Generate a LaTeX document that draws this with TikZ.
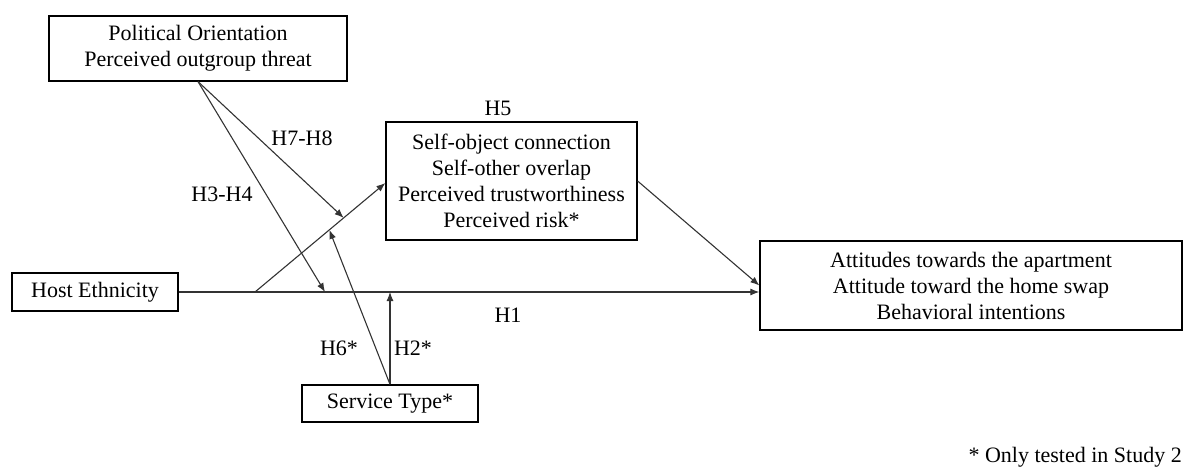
\documentclass[tikz,border=0pt]{standalone}
\usepackage{fontspec}
\setmainfont{Liberation Serif}
\usetikzlibrary{arrows.meta,calc}

\tikzset{
  box/.style={draw=black, line width=1.2pt, inner sep=0pt, align=center,
              font=\fontsize{22}{26}\selectfont},
  lbl/.style={inner sep=0pt, font=\fontsize{22}{26}\selectfont},
  link/.style={draw=black!80, line width=1.1pt},
  arr/.style={link, -{Latex[length=9pt,width=7pt]}}
}

\begin{document}
\begin{tikzpicture}[x=1pt,y=-1pt]
  \useasboundingbox (0,0) rectangle (1183,469);

  % construct boxes
  \node[box, minimum width=298pt, minimum height=65pt] (pol) at (198,48.5)
    {Political Orientation\\Perceived outgroup threat};
  \node[box, minimum width=251pt, minimum height=118pt] (self) at (511.5,181)
    {Self-object connection\\Self-other overlap\\Perceived trustworthiness\\Perceived risk*};
  \node[box, minimum width=422pt, minimum height=89pt] (att) at (971,285.5)
    {Attitudes towards the apartment\\Attitude toward the home swap\\Behavioral intentions};
  \node[box, minimum width=166pt, minimum height=38pt] (host) at (95,292)
    {Host Ethnicity};
  \node[box, minimum width=176pt, minimum height=37pt] (serv) at (390,403.5)
    {Service Type*};

  % junction points on the paths
  \coordinate (j1) at (255,292);
  \coordinate (st) at ($(self.west)+(0,2)$);
  \coordinate (m34) at (325,292);
  \coordinate (m78) at ($(j1)!0.68!(st)$);
  \coordinate (m6) at ($(j1)!0.57!(st)$);

  % direct path and mediation path
  \draw[arr] (host.east) -- (host.east -| att.west);
  \draw[arr] (j1) -- (st);
  \draw[arr] (self.east) -- (att.west);

  % moderators
  \draw[arr] (pol.south) -- (m78);
  \draw[arr] (pol.south) -- (m34);
  \draw[arr] (serv.north) -- (m6);
  \draw[arr] (serv.north) -- (serv.north |- host.east);

  % hypothesis labels
  \node[lbl] (h78) at (302,138) {H7-H8};
  \node[lbl] (h34) at (222,194) {H3-H4};
  \node[lbl] (h5) at (498,108) {H5};
  \node[lbl] (h1) at (508,315) {H1};
  \node[lbl] (h6) at (339,348) {H6*};
  \node[lbl] (h2) at (413,348) {H2*};

  % footnote
  \node[lbl, anchor=base east] (note) at (1182,462) {* Only tested in Study 2};
\end{tikzpicture}
\end{document}
